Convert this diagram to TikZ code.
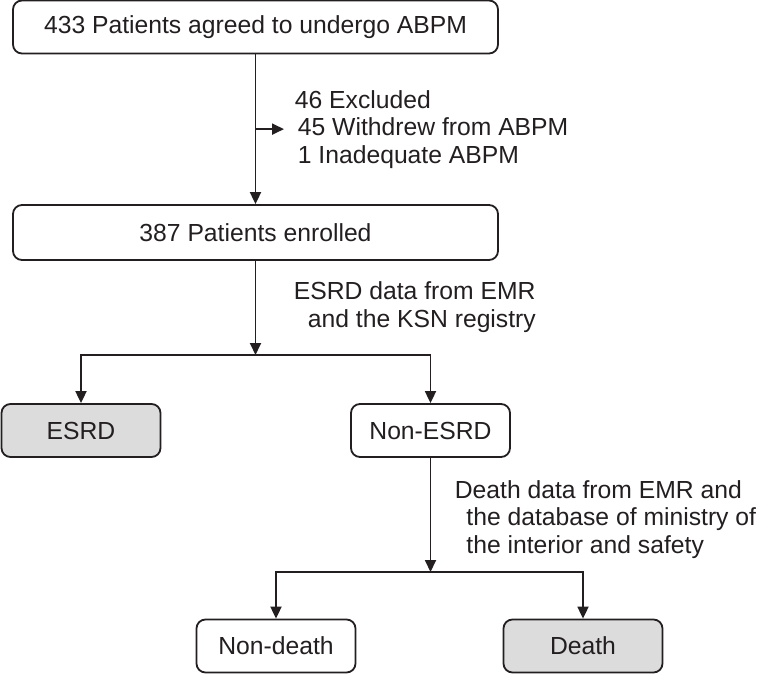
\documentclass[tikz,border=0pt]{standalone}
\usepackage{fontspec}
\setmainfont{Liberation Sans}
\usetikzlibrary{arrows.meta}
\definecolor{linecol}{RGB}{35,31,32}
\definecolor{boxgray}{RGB}{220,220,220}
\begin{document}
\begin{tikzpicture}[x=1pt,y=1pt,line width=1.8pt,
    font=\fontsize{24.7}{27.5}\selectfont,
    every node/.append style={text=linecol},
    box/.style={draw=linecol,rounded corners=9pt,inner sep=0pt,align=center},
    wide/.style={box,minimum width=485pt,minimum height=53pt},
    small/.style={box,minimum width=159pt,minimum height=53pt},
    shaded/.style={fill=boxgray},
    note/.style={inner sep=0pt,align=left,anchor=base west},
    flow/.style={draw=linecol,-{Triangle[length=12pt,width=11pt]}}]
    \useasboundingbox (0,0) rectangle (763,-675);
    \node [wide] (agreed) at (255.5,-27) {433 Patients agreed to undergo ABPM};
    \node [wide,minimum height=55pt] (enrolled) at (255.5,-232.5) {387 Patients enrolled};
    \node [small,shaded] (esrd) at (81,-430.5) {ESRD};
    \node [small] (nonesrd) at (430.5,-430.5) {Non-ESRD};
    \node [small] (nondeath) at (276,-646) {Non-death};
    \node [small,shaded] (death) at (583,-646) {Death};
    % base of a multi-line note is its last line
    \node [note] (excl) at (294,-163) {46 Excluded\\\hspace*{3pt}45 Withdrew from ABPM\\\hspace*{3pt}1 Inadequate ABPM};
    \node [note] (esrdsrc) at (293,-327) {ESRD data from EMR\\\hspace*{14pt}and the KSN registry};
    \node [note] (deathsrc) at (454,-553) {Death data from EMR and\\\hspace*{11.5pt}the database of ministry of\\\hspace*{11.5pt}the interior and safety};
    \coordinate (split1) at (255.5,-355);
    \coordinate (split2) at (430.5,-572);
    \draw [flow] (agreed.south) -- (enrolled.north);
    \draw [flow,shorten >=10pt] (agreed.south |- excl.west) -- (excl.west);
    \draw [flow] (enrolled.south) -- (split1);
    \draw [flow] (split1) -| (esrd.north);
    \draw [flow] (split1) -| (nonesrd.north);
    \draw [flow] (nonesrd.south) -- (split2);
    \draw [flow] (split2) -| (nondeath.north);
    \draw [flow] (split2) -| (death.north);
\end{tikzpicture}
\end{document}
